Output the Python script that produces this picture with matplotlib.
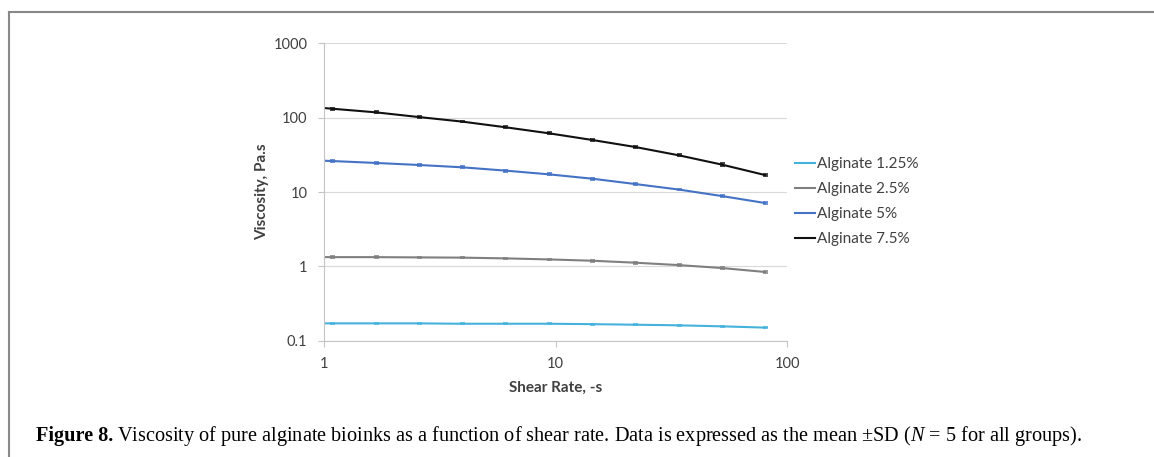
import matplotlib
matplotlib.use("Agg")
import matplotlib.pyplot as plt
from matplotlib.lines import Line2D

# shear rate (1/s); first point sits just left of the axis start
shear_rate = [0.705, 1.08, 1.67, 2.56, 3.94, 6.07, 9.33, 14.4, 22.1, 34.0, 52.2, 80.4]

visc_125 = [0.171, 0.171, 0.171, 0.171, 0.169, 0.169, 0.169, 0.167, 0.164, 0.161, 0.156, 0.150]
visc_25 = [1.34, 1.33, 1.33, 1.32, 1.31, 1.28, 1.24, 1.19, 1.12, 1.04, 0.95, 0.84]
visc_5 = [27.5, 26.1, 24.6, 23.1, 21.5, 19.4, 17.3, 15.1, 12.8, 10.8, 8.83, 7.11]
visc_75 = [148, 132, 118, 102, 88.6, 74.3, 61.7, 50.1, 40.3, 31.2, 23.4, 16.9]

sd_125 = [0.002, 0.002, 0.002, 0.002, 0.002, 0.002, 0.002, 0.002, 0.002, 0.002, 0.002, 0.002]
sd_25 = [0.03, 0.03, 0.03, 0.03, 0.03, 0.03, 0.03, 0.03, 0.03, 0.03, 0.03, 0.03]
sd_5 = [0.8, 0.8, 0.7, 0.7, 0.6, 0.6, 0.5, 0.5, 0.4, 0.3, 0.3, 0.2]
sd_75 = [4.0, 3.5, 3.0, 2.8, 2.5, 2.2, 1.8, 1.5, 1.2, 1.0, 0.8, 0.6]

labels = ["Alginate 1.25%", "Alginate 2.5%", "Alginate 5%", "Alginate 7.5%"]
colors = ["#45b2dc", "#7f7f7f", "#4472c4", "#111111"]

plt.rcParams["font.family"] = ["Lato", "DejaVu Sans"]
plt.rcParams["mathtext.fontset"] = "custom"
plt.rcParams["mathtext.it"] = "Liberation Serif:italic"
plt.rcParams["mathtext.rm"] = "Liberation Serif"

W, H = 1154, 457
fig = plt.figure(figsize=(W / 100, H / 100), dpi=100)
ax = fig.add_axes([324 / W, 1 - 340.7 / H, (787 - 324) / W, (340.7 - 43.3) / H])

series = [visc_125, visc_25, visc_5, visc_75]
errs = [sd_125, sd_25, sd_5, sd_75]
for vals, err, col, lab in zip(series, errs, colors, labels):
    ax.errorbar(shear_rate, vals, yerr=err, color=col, lw=1.5, label=lab,
                capsize=1.8, capthick=1.1, elinewidth=1.1)

ax.set_xscale("log")
ax.set_yscale("log")
ax.set_xlim(1, 100)
ax.set_ylim(0.1, 1000)
ax.set_xticks([1, 10, 100])
ax.set_xticklabels(["1", "10", "100"])
ax.set_yticks([0.1, 1, 10, 100, 1000])
ax.set_yticklabels(["0.1", "1", "10", "100", "1000"])
ax.minorticks_off()

ax.grid(axis="y", color="#d9d9d9", lw=0.8)
ax.set_axisbelow(True)
for s in ["top", "right"]:
    ax.spines[s].set_visible(False)
for s in ["left", "bottom"]:
    ax.spines[s].set_color("#c4c4c4")
    ax.spines[s].set_linewidth(0.8)
ax.tick_params(axis="both", length=4, width=0.8, color="#c4c4c4",
               labelsize=10.5, labelcolor="#404040", pad=8)

ax.set_xlabel("Shear Rate, -s", fontsize=11, fontweight="bold", color="#404040", labelpad=7)
ax.set_ylabel("Viscosity, Pa.s", fontsize=11, fontweight="bold", color="#404040", labelpad=3)

handles = [Line2D([], [], color=c, lw=1.5) for c in colors]
fig.legend(handles, labels, loc="center left", bbox_to_anchor=(795 / W, 1 - 201.7 / H),
           frameon=False, fontsize=11, handlelength=1.3, handletextpad=0.12,
           labelspacing=0.72, borderpad=0, borderaxespad=0, labelcolor="#404040")

# caption below the chart
y_cap = 1 - 441 / H
t1 = fig.text(36 / W, y_cap, "Figure 8.", family="Liberation Serif", fontweight="bold",
              fontsize=14.6, va="baseline")
fig.canvas.draw()
bb = t1.get_window_extent(fig.canvas.get_renderer())
fig.text((bb.x1 + 4) / W, y_cap,
         "Viscosity of pure alginate bioinks as a function of shear rate. "
         "Data is expressed as the mean \u00b1SD ($N$ = 5 for all groups).",
         family="Liberation Serif", fontsize=14.6, va="baseline")

# open frame along the top and left edges
fig.add_artist(Line2D([9 / W, 9 / W], [0, 1 - 11.5 / H], color="#888888", lw=1.5,
                      transform=fig.transFigure))
fig.add_artist(Line2D([9 / W, 1], [1 - 11.5 / H, 1 - 11.5 / H], color="#888888", lw=1.5,
                      transform=fig.transFigure))

fig.savefig("out.png", dpi=100)
